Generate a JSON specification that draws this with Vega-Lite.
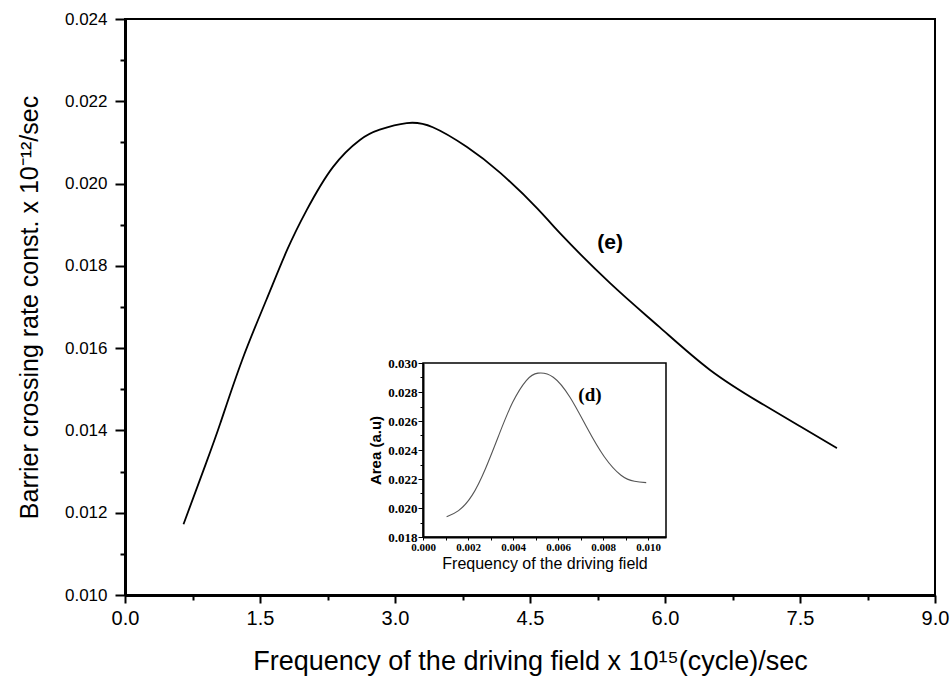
{
  "$schema": "https://vega.github.io/schema/vega-lite/v6.json",
  "width": 810,
  "height": 576,
  "autosize": "none",
  "padding": {"left": 125, "top": 19, "right": 17, "bottom": 89},
  "background": "white",
  "config": {
    "font": "Liberation Sans",
    "view": {"stroke": "black", "strokeWidth": 2},
    "axis": {"grid": false, "domainColor": "black", "tickColor": "black", "labelColor": "black", "titleColor": "black"}
  },
  "datasets": {
    "main": [
      {"f": 0.65, "k": 0.01172},
      {"f": 0.9, "k": 0.0132},
      {"f": 1.06, "k": 0.01418},
      {"f": 1.3, "k": 0.0157},
      {"f": 1.57, "k": 0.01717},
      {"f": 1.8, "k": 0.01838},
      {"f": 2.02, "k": 0.01936},
      {"f": 2.31, "k": 0.0204},
      {"f": 2.61, "k": 0.02106},
      {"f": 2.83, "k": 0.02131},
      {"f": 3.13, "k": 0.02147},
      {"f": 3.42, "k": 0.02137},
      {"f": 3.8, "k": 0.02089},
      {"f": 4.17, "k": 0.02026},
      {"f": 4.58, "k": 0.0194},
      {"f": 4.83, "k": 0.0188},
      {"f": 5.39, "k": 0.01758},
      {"f": 5.94, "k": 0.01651},
      {"f": 6.5, "k": 0.01547},
      {"f": 7.06, "k": 0.01467},
      {"f": 7.5, "k": 0.0141},
      {"f": 7.91, "k": 0.01357}
    ],
    "inset": [
      {"f": 0.00105, "a": 0.0194},
      {"f": 0.00158, "a": 0.01982},
      {"f": 0.00218, "a": 0.02087},
      {"f": 0.00278, "a": 0.02273},
      {"f": 0.00338, "a": 0.02506},
      {"f": 0.00398, "a": 0.02727},
      {"f": 0.00459, "a": 0.02879},
      {"f": 0.00511, "a": 0.0293},
      {"f": 0.00579, "a": 0.02902},
      {"f": 0.00654, "a": 0.02762},
      {"f": 0.00729, "a": 0.02553},
      {"f": 0.00805, "a": 0.02355},
      {"f": 0.0088, "a": 0.02226},
      {"f": 0.0094, "a": 0.02184},
      {"f": 0.00992, "a": 0.02175}
    ],
    "one": [{}]
  },
  "layer": [
    {
      "layer": [
        {
          "data": {"name": "main"},
          "mark": {"type": "line", "color": "black", "strokeWidth": 1.8, "interpolate": "natural"},
          "encoding": {
            "x": {
              "field": "f", "type": "quantitative",
              "scale": {"domain": [0, 9], "nice": false, "zero": false},
              "axis": {
                "orient": "bottom",
                "title": "Frequency of the driving field x 10¹⁵(cycle)/sec",
                "titleFontSize": 27, "titleFontWeight": "normal", "titlePadding": 20,
                "values": [0, 0.75, 1.5, 2.25, 3, 3.75, 4.5, 5.25, 6, 6.75, 7.5, 8.25, 9],
                "labelExpr": "abs(datum.value/1.5 - round(datum.value/1.5)) < 0.000001 ? format(datum.value, '.1f') : ''",
                "labelFontSize": 20, "labelPadding": 5,
                "domainWidth": 3, "tickWidth": 2,
                "tickSize": {"condition": {"test": "abs(datum.value/1.5 - round(datum.value/1.5)) < 0.000001", "value": 8}, "value": 5},
                "labelFlush": false, "labelOverlap": false
              }
            },
            "y": {
              "field": "k", "type": "quantitative",
              "scale": {"domain": [0.01, 0.024], "nice": false, "zero": false},
              "axis": {
                "orient": "left",
                "title": "Barrier crossing rate const. x 10⁻¹²/sec",
                "titleFontSize": 25, "titleFontWeight": "normal", "titlePadding": 22,
                "values": [0.01, 0.011, 0.012, 0.013, 0.014, 0.015, 0.016, 0.017, 0.018, 0.019, 0.02, 0.021, 0.022, 0.023, 0.024],
                "labelExpr": "round(datum.value*1000) % 2 === 0 ? format(datum.value, '.3f') : ''",
                "labelFontSize": 17, "labelPadding": 8,
                "domainWidth": 3, "tickWidth": 2,
                "tickSize": {"condition": {"test": "round(datum.value*1000) % 2 === 0", "value": 10}, "value": 5},
                "labelFlush": false, "labelOverlap": false
              }
            }
          }
        },
        {
          "data": {"name": "one"},
          "mark": {"type": "text", "text": "(e)", "fontSize": 21, "fontWeight": "bold", "font": "Liberation Sans", "color": "black"},
          "encoding": {
            "x": {"datum": 5.39, "type": "quantitative"},
            "y": {"datum": 0.01856, "type": "quantitative"}
          }
        }
      ]
    },
    {
      "layer": [
        {
          "data": {"name": "inset"},
          "mark": {"type": "line", "color": "#555555", "strokeWidth": 1.1, "interpolate": "natural"},
          "encoding": {
            "x": {
              "field": "f", "type": "quantitative",
              "scale": {"domain": [0, 0.0108], "range": [298, 541], "nice": false, "zero": false},
              "axis": {
                "orient": "bottom", "offset": -58,
                "title": "Frequency of the driving field",
                "titleFontSize": 16, "titleFontWeight": "normal", "titlePadding": 3,
                "values": [0, 0.001, 0.002, 0.003, 0.004, 0.005, 0.006, 0.007, 0.008, 0.009, 0.01],
                "labelExpr": "round(datum.value*1000) % 2 === 0 ? format(datum.value, '.3f') : ''",
                "labelFont": "Liberation Serif", "labelFontWeight": "bold",
                "labelFontSize": 11, "labelPadding": 1,
                "domainWidth": 2, "tickWidth": 1, "tickSize": 3,
                "labelFlush": false, "labelOverlap": false
              }
            },
            "y": {
              "field": "a", "type": "quantitative",
              "scale": {"domain": [0.018, 0.03], "range": [518, 344], "nice": false, "zero": false},
              "axis": {
                "orient": "left", "offset": -298,
                "title": "Area (a.u)",
                "titleFontSize": 15, "titleFontWeight": "bold", "titlePadding": 4,
                "values": [0.018, 0.019, 0.02, 0.021, 0.022, 0.023, 0.024, 0.025, 0.026, 0.027, 0.028, 0.029, 0.03],
                "labelExpr": "round(datum.value*1000) % 2 === 0 ? format(datum.value, '.3f') : ''",
                "labelFont": "Liberation Serif", "labelFontWeight": "bold",
                "labelFontSize": 13, "labelPadding": 1,
                "domainWidth": 2, "tickWidth": 1,
                "tickSize": {"condition": {"test": "round(datum.value*1000) % 2 === 0", "value": 5}, "value": 3},
                "labelFlush": false, "labelOverlap": false
              }
            }
          }
        },
        {
          "data": {"name": "one"},
          "mark": {"type": "rect", "fill": null, "fillOpacity": 0, "stroke": "black", "strokeWidth": 1.5},
          "encoding": {
            "x": {"datum": 0, "type": "quantitative"},
            "x2": {"datum": 0.0108},
            "y": {"datum": 0.018, "type": "quantitative"},
            "y2": {"datum": 0.03}
          }
        },
        {
          "data": {"name": "one"},
          "mark": {"type": "text", "text": "(d)", "fontSize": 19, "fontWeight": "bold", "font": "Liberation Serif", "color": "black"},
          "encoding": {
            "x": {"datum": 0.00742, "type": "quantitative"},
            "y": {"datum": 0.0278, "type": "quantitative"}
          }
        }
      ]
    }
  ],
  "resolve": {
    "scale": {"x": "independent", "y": "independent"},
    "axis": {"x": "independent", "y": "independent"}
  }
}
